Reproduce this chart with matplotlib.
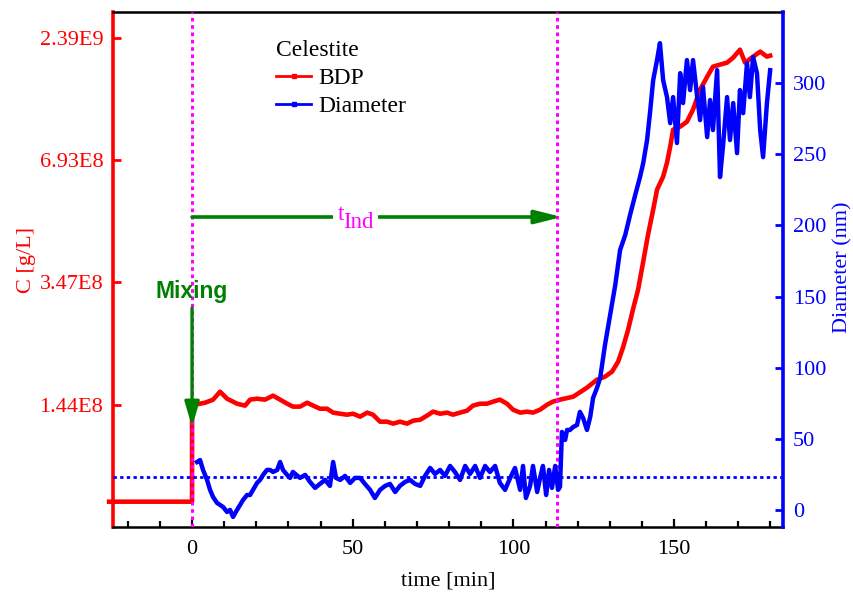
import matplotlib
matplotlib.use("Agg")
import matplotlib.pyplot as plt
from matplotlib.lines import Line2D
from matplotlib.patches import Rectangle

plt.rcParams['font.family'] = ['Liberation Serif', 'DejaVu Serif']
plt.rcParams['font.size'] = 16

# ---------------- data ----------------
# BDP concentration (left axis, evenly spaced tick scale)
left_tick_pos = [1, 2, 3, 4]
left_tick_labels = ['1.44E8', '3.47E8', '6.93E8', '2.39E9']

bdp_time = [-25.8, 0.0, 0.0, 0.93, 4.05, 6.54, 8.71, 10.89, 14.0, 16.5, 18.05, 20.2, 22.7,
            25.2, 27.4, 29.6, 31.4, 33.6, 35.8, 37.7, 39.8, 42.0, 43.9, 46.1, 48.2,
            50.1, 52.3, 54.5, 56.3, 58.5, 60.7, 62.6, 64.7, 66.9, 68.8, 71.0, 73.1,
            75.0, 77.2, 79.4, 81.2, 83.4, 85.6, 87.4, 89.6, 91.8, 93.7, 95.8, 98.0,
            99.9, 102.1, 104.3, 106.1, 108.3, 110.5, 112.3, 114.5, 118.6, 122.9,
            126.0, 128.5, 130.7, 132.6, 134.1, 135.7, 137.2, 138.8, 140.4, 141.9,
            143.5, 144.7, 146.6, 147.8, 148.8, 149.7, 151.9, 154.0, 155.9, 158.1,
            160.3, 162.1, 164.3, 166.5, 168.4, 170.5, 172.1, 174.6, 176.8, 178.9, 179.9]
bdp_value = [0.207, 0.207, 0.95, 1.0, 1.016, 1.041, 1.106, 1.049, 1.008, 0.992, 1.041, 1.049, 1.041,
             1.074, 1.041, 1.008, 0.984, 0.984, 1.016, 0.992, 0.967, 0.967, 0.935, 0.926, 0.918,
             0.926, 0.902, 0.935, 0.918, 0.861, 0.861, 0.845, 0.861, 0.845, 0.869, 0.877, 0.910,
             0.943, 0.926, 0.935, 0.918, 0.935, 0.951, 0.992, 1.008, 1.008, 1.025, 1.041, 1.008,
             0.959, 0.935, 0.943, 0.935, 0.959, 1.0, 1.025, 1.041, 1.065, 1.139,
             1.204, 1.229, 1.27, 1.352, 1.466, 1.613, 1.777, 1.94, 2.169, 2.39,
             2.594, 2.758, 2.864, 2.978, 3.109, 3.248, 3.273, 3.313, 3.412, 3.575,
             3.681, 3.763, 3.78, 3.796, 3.837, 3.902, 3.796, 3.845, 3.886, 3.845, 3.853]

# Particle diameter (right axis, nm)
dia_time = [1.56, 2.49, 3.42, 4.67, 5.60, 6.54, 7.78, 8.71, 9.65, 10.89, 11.83, 12.76, 14.0,
            14.94, 15.87, 17.12, 18.05, 18.98, 20.23, 21.16, 22.1, 23.3, 24.3, 25.2, 26.5,
            27.4, 28.3, 29.6, 30.5, 31.4, 33.6, 35.2, 36.7, 38.3, 39.8, 41.4, 42.9, 43.9,
            44.8, 46.1, 47.6, 49.2, 50.7, 52.3, 53.8, 55.4, 56.9, 58.5, 60.1, 61.6, 63.2,
            64.7, 66.3, 67.8, 69.4, 71.0, 72.5, 74.1, 75.6, 77.2, 78.7, 80.3, 81.8, 83.4,
            85.0, 86.5, 88.1, 89.6, 91.2, 92.7, 94.3, 95.8, 97.4, 99.0, 100.5, 102.1, 103.0,
            103.9, 105.2, 106.1, 107.4, 108.3, 109.2, 110.2, 111.1, 112.0, 113.0, 113.9,
            114.5, 115.1, 116.1, 116.7, 117.6, 118.6, 119.8, 120.7, 121.7, 122.9, 123.9,
            124.8, 126.0, 127.0, 128.5, 130.1, 131.7, 133.2, 134.8, 136.3, 137.9, 139.4,
            140.4, 141.6, 142.5, 143.5, 144.7, 145.6, 146.6, 147.8, 148.8, 149.7, 150.9,
            151.9, 152.8, 154.0, 155.0, 155.9, 157.2, 158.1, 159.0, 160.3, 161.2, 162.1,
            163.4, 164.3, 165.2, 166.5, 167.4, 168.4, 169.6, 170.5, 171.5, 172.7, 173.6,
            174.6, 175.8, 176.8, 177.7, 178.9, 179.9]
dia_value = [33.7, 35.1, 28.1, 21.1, 14.1, 9.1, 4.9, 3.5, 2.1, -1.4, 0.0, -4.9, 0.0,
             3.5, 7.0, 10.5, 10.5, 14.1, 19.0, 21.1, 24.6, 28.1, 28.1, 26.7, 28.1,
             33.7, 28.1, 24.6, 22.5, 26.7, 22.5, 24.6, 19.7, 15.5, 18.3, 21.1, 16.9, 33.7,
             22.5, 21.1, 23.9, 19.0, 22.5, 22.5, 18.3, 14.1, 8.4, 14.1, 16.9, 18.3, 12.6,
             16.9, 19.7, 21.1, 18.3, 16.9, 23.9, 29.5, 25.3, 28.1, 23.9, 30.9, 26.7, 21.1,
             30.9, 25.3, 30.9, 22.5, 30.9, 26.7, 30.9, 19.0, 14.1, 22.5, 29.5, 14.1, 30.9,
             8.4, 16.9, 30.9, 12.6, 22.5, 30.9, 10.5, 28.1, 15.5, 30.9, 14.1,
             16.2, 54.8, 49.2, 56.2, 56.2, 58.3, 59.7, 68.9, 64.6, 56.2, 65.3,
             78.7, 85.7, 92.7, 115.9, 137.0, 158.1, 182.7, 193.2, 207.3, 221.3, 234.0,
             243.8, 260.0, 278.9, 302.1, 316.2, 328.1, 302.1, 290.2, 271.9, 290.2, 257.9,
             307.0, 286.0, 316.2, 295.1, 316.2, 290.2, 274.0, 297.2, 262.1, 288.1, 267.0,
             309.1, 234.0, 255.0, 290.2, 260.0, 286.0, 250.8, 295.1, 278.9, 314.1, 290.2,
             318.3, 307.0, 267.0, 248.0, 286.0, 309.1]

dia_baseline = 23.2      # dotted reference diameter
t_mixing = 0.0
t_induction = 113.6

# ---------------- figure ----------------
RED = '#ff0000'
BLUE = '#0000ff'
MAG = '#ff00ff'
GREEN = '#008000'

fig = plt.figure(figsize=(8.54, 5.99), dpi=100)
ax = fig.add_axes([113 / 854, 1 - 527 / 599, 670 / 854, 515 / 599])
ax2 = ax.twinx()

ax.set_xlim(-24.6, 183.9)
ax.set_ylim(0, 4.21)
ax2.set_ylim(-12, 350)

# lines
ax.plot(bdp_time, bdp_value, color=RED, lw=3.3, clip_on=False, zorder=3)
ax2.plot(dia_time, dia_value, color=BLUE, lw=3.2, zorder=3)
ax2.axhline(dia_baseline, color=BLUE, lw=2, ls=(0, (1.2, 1.2)), zorder=2)
for tv in (t_mixing, t_induction):
    ax2.axvline(tv, color=MAG, lw=2.2, ls=(0, (1.2, 1.2)), zorder=2)

# spines
for s in ('top', 'bottom', 'left'):
    ax2.spines[s].set_visible(False)
ax.spines['right'].set_visible(False)
ax.spines['left'].set_color(RED)
ax.spines['left'].set_linewidth(2.6)
ax2.spines['right'].set_color(BLUE)
ax2.spines['right'].set_linewidth(2.6)
ax.spines['top'].set_linewidth(1.8)
ax.spines['bottom'].set_linewidth(1.8)

# x ticks
ax.set_xticks([0, 50, 100, 150])
ax.set_xticks(range(-20, 181, 10), minor=True)
ax.tick_params(axis='x', which='major', direction='in', length=6, width=1.6, pad=9,
               labelsize=16, top=False)
ax.tick_params(axis='x', which='minor', direction='in', length=4, width=1.6, top=False)
ax.set_xlabel('time [min]', fontsize=16, va='center')
ax.xaxis.set_label_coords(0.5, (527 - 581) / 515)

# left ticks
ax.set_yticks(left_tick_pos)
ax.set_yticklabels(left_tick_labels)
ax.tick_params(axis='y', direction='in', length=6, width=2, colors=RED, labelsize=16, pad=7)
ax.set_ylabel('C [g/L]', color=RED, fontsize=16, va='center', ha='center')
ax.yaxis.set_label_coords((27 - 113) / 670, (527 - 260) / 515)

# right ticks
ax2.set_yticks([0, 50, 100, 150, 200, 250, 300])
ax2.tick_params(axis='y', direction='in', length=6, width=2, colors=BLUE, labelsize=16, pad=7)
ax2.set_ylabel('Diameter (nm)', color=BLUE, fontsize=16, va='center', ha='center')
ax2.yaxis.set_label_coords((843 - 113) / 670, (527 - 267) / 515)

# annotations: induction time arrow
ax2.annotate('', xy=(115.1, 205.9), xytext=(0.0, 205.9),
             arrowprops=dict(arrowstyle='-|>,head_length=0.8,head_width=0.2',
                             mutation_scale=20, color=GREEN, lw=2.6,
                             shrinkA=0, shrinkB=0), zorder=5)
ax2.add_patch(Rectangle((43.9, 201.0), 14.0, 10.0, facecolor='white',
                        edgecolor='none', zorder=6))
ax2.text(45.4, 203.8, 't', color=MAG, fontsize=16.5, ha='left', va='baseline', zorder=7)
ax2.text(47.0, 198.1, 'Ind', color=MAG, fontsize=16.5, ha='left', va='baseline', zorder=7)

# mixing arrow
ax2.annotate('', xy=(0.0, 58.3), xytext=(0.0, 141.9),
             arrowprops=dict(arrowstyle='-|>,head_length=0.75,head_width=0.22',
                             mutation_scale=20, color=GREEN, lw=2.4,
                             shrinkA=0, shrinkB=0), zorder=5)
ax2.text(0.0, 149.0, 'Mixing', color=GREEN, fontsize=16.5, fontweight='bold',
         family=['Liberation Sans', 'DejaVu Sans'], ha='center', va='baseline', zorder=7)

# legend
handles = [Line2D([], [], color=RED, lw=2, marker='s', markersize=3),
           Line2D([], [], color=BLUE, lw=2, marker='s', markersize=3)]
leg = ax2.legend(handles, ['BDP', 'Diameter'], title='Celestite', loc='upper left',
                 bbox_to_anchor=((276 - 113) / 670, (527 - 40) / 515), frameon=False,
                 fontsize=17, title_fontsize=17, handlelength=1.5, handletextpad=0.3,
                 labelspacing=0.25, borderpad=0, borderaxespad=0, numpoints=1,
                 alignment='left')
leg._legend_box.sep = 5

fig.savefig('out.png', dpi=100)
